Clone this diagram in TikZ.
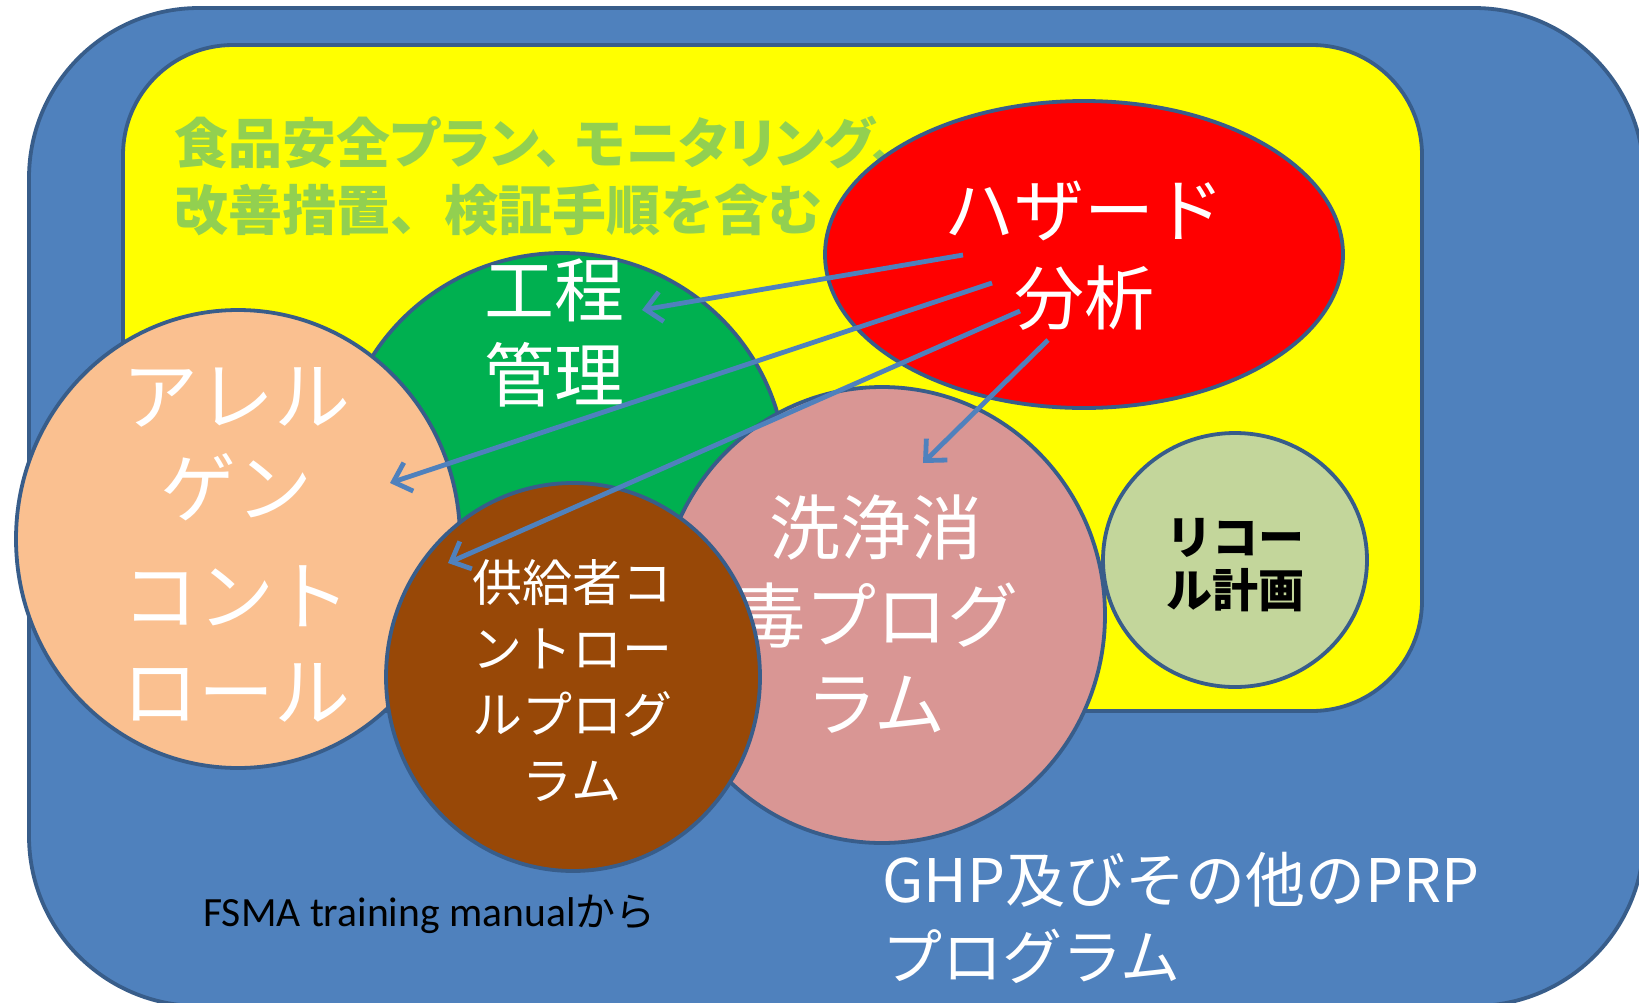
\documentclass[tikz,border=0pt]{standalone}
\usepackage{fontspec}
\setmainfont{Noto Sans CJK JP}
\newfontfamily\jpfont{Noto Sans CJK JP}
\newfontfamily\jppfont{Noto Sans CJK JP}[RawFeature=+palt]
\newfontfamily\calibrifont{Carlito}
\usetikzlibrary{shapes.geometric,arrows.meta}
\definecolor{outerblue}{HTML}{4F81BD}
\definecolor{edgec}{HTML}{385D8A}
\definecolor{yellowc}{HTML}{FFFF00}
\definecolor{redc}{HTML}{FF0000}
\definecolor{ygreen}{HTML}{92D050}
\definecolor{pgreen}{HTML}{00B050}
\definecolor{peach}{HTML}{FAC090}
\definecolor{pinkc}{HTML}{D99694}
\definecolor{brownc}{HTML}{984807}
\definecolor{recallc}{HTML}{C3D69B}
\definecolor{arrowc}{HTML}{4F81BD}
\tikzset{
  shp/.style={draw=edgec, line width=1.9pt, inner sep=0pt, outer sep=0pt},
  ell/.style={shp, ellipse},
  lbl/.style={text=white, align=center, inner sep=0pt},
  arr/.style={draw=arrowc, line width=2.4pt, -{Straight Barb[length=8pt,width=15pt]}},
}
\begin{document}
\begin{tikzpicture}[x=0.5pt,y=-0.5pt]
\useasboundingbox (0,0) rectangle (1639,1002);
\clip (0,0) rectangle (1639,1002);
\fill[white] (0,0) rectangle (1639,1002);
% containers
\node[shp, rectangle, rounded corners=85pt, fill=outerblue, minimum width=807.5pt, minimum height=499pt] (outer) at (836.5,507) {};
\node[shp, rectangle, rounded corners=55pt, fill=yellowc, minimum width=649.5pt, minimum height=333pt] (plan) at (772.5,378) {};
\node[text=ygreen, font={\jppfont\bfseries\fontsize{27}{33.5}\selectfont}, align=left, anchor=west, inner sep=0pt] (plantext) at (174,176) {食品安全プラン、\hspace{6pt}モニタリング、\\{\jpfont 改善措置、検証手順を含む}};
% hazard analysis
\node[ell, fill=redc, minimum width=259pt, minimum height=153.5pt] (hazard) at (1084,254.5) {};
\node[lbl, font={\fontsize{35}{44}\selectfont}] (hazardtext) at (1084,256) {ハザード\\分析};
% process control
\node[ell, fill=pgreen, minimum width=224pt, minimum height=221pt] (process) at (562,474) {};
\node[lbl, font={\fontsize{35}{42.5}\selectfont}] (processtext) at (554,332.5) {工程\\管理};
% allergen
\node[ell, fill=peach, minimum width=222pt, minimum height=229pt] (allergen) at (238,539) {};
\node[lbl, font={\fontsize{38}{46}\selectfont}] (allergentext) at (236,545) {アレル\\ゲン\\[8pt]コント\\[2pt]ロール};
% sanitation
\node[ell, fill=pinkc, minimum width=223pt, minimum height=228pt] (sanitation) at (882,615) {};
\node[lbl, font={\fontsize{35.5}{44}\selectfont}] (sanitationtext) at (876,614) {洗浄消\\毒プログ\\ラム};
% supplier
\node[ell, fill=brownc, minimum width=187pt, minimum height=194pt] (supplier) at (573,677) {};
\node[lbl, font={\fontsize{25}{33}\selectfont}] (suppliertext) at (572,681) {供給者コ\\ントロー\\ルプログ\\ラム};
% recall
\node[ell, fill=recallc, minimum width=132pt, minimum height=127pt] (recall) at (1235,560) {};
\node[lbl, text=black, font={\bfseries\fontsize{23}{26.5}\selectfont}] (recalltext) at (1235,565) {リコー\\ル計画};
% other texts
\node[text=white, anchor=west, align=left, inner sep=0pt, font={\fontsize{30}{38.5}\selectfont}] (prp) at (882,918) {GHP及びその他のPRP\\プログラム};
\node[anchor=base west, inner sep=0pt, font={\calibrifont\fontsize{20.8}{24}\selectfont}] (source) at (203,926) {FSMA training manual{\jpfont\fontsize{20}{24}\selectfont から}};
% arrows
\coordinate (h1) at (963,255); \coordinate (t1) at (642,310);
\coordinate (h2) at (992,283); \coordinate (t2) at (390,483);
\coordinate (h3) at (1020,311); \coordinate (t3) at (448,563);
\coordinate (h4) at (1048,340); \coordinate (t4) at (923,463);
\draw[arr] (h1) -- (t1);
\draw[arr] (h2) -- (t2);
\draw[arr] (h3) -- (t3);
\draw[arr] (h4) -- (t4);
\end{tikzpicture}
\end{document}
